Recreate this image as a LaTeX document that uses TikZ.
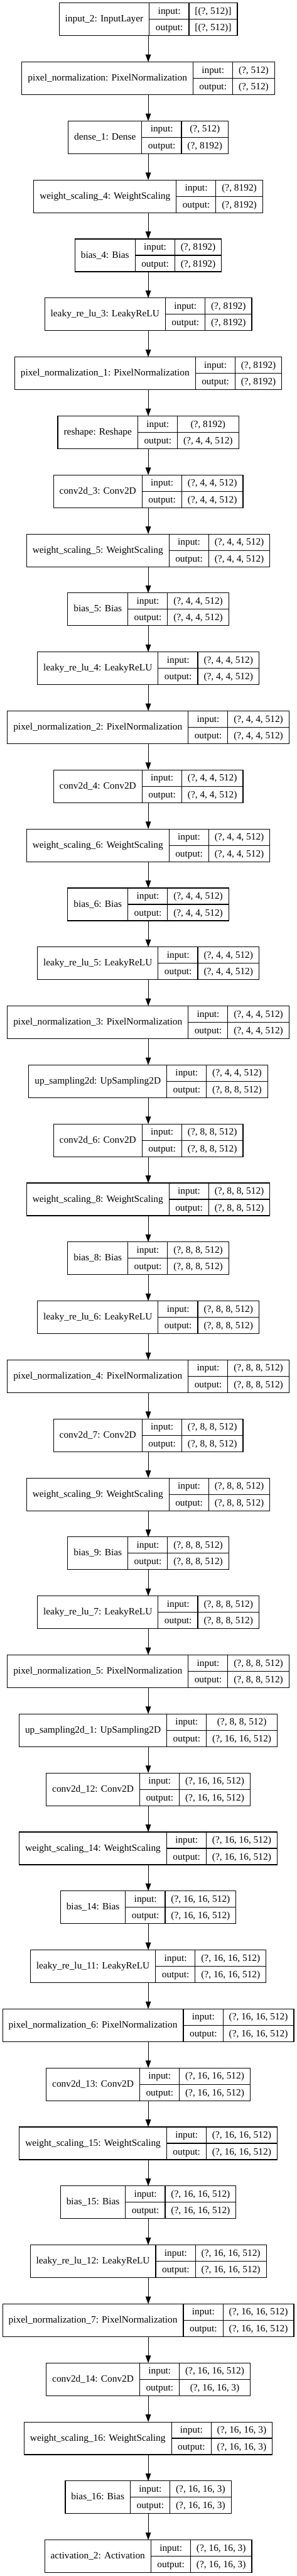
\documentclass[tikz,border=0pt]{standalone}
\usepackage{fontspec}
\setmainfont{Liberation Serif}
\usetikzlibrary{arrows.meta}
\setlength\tabcolsep{8.4pt}
\setlength\arrayrulewidth{1pt}
\newcommand\lfont{\fontsize{13.6pt}{16pt}\selectfont}
\newcommand\rowstrut{\rule[-7pt]{0pt}{22.5pt}}
\tikzset{
  rec/.style={draw, line width=1pt, inner sep=0pt, outer sep=0pt, font=\lfont},
  edge/.style={line width=1pt, -{Triangle[length=10.5pt,width=7.5pt]}}
}
\newcommand\kerasLayer[5]{%
  \pgfmathsetmacro\yc{-(27.25+83*#5)}%
  \node[rec] (#1) at (208.875pt,\yc pt)
    {\begin{tabular}{c|@{}c@{}}#2 &
      \begin{tabular}{c|c}\rowstrut input: & #3\\\hline\rowstrut output: & #4\end{tabular}%
     \end{tabular}};
}
\begin{document}
\begin{tikzpicture}
\useasboundingbox (0pt,0pt) rectangle (417.75pt,-3624pt);
\kerasLayer{n0}{input\_2: InputLayer}{[(?, 512)]}{[(?, 512)]}{0}
\kerasLayer{n1}{pixel\_normalization: PixelNormalization}{(?, 512)}{(?, 512)}{1}
\kerasLayer{n2}{dense\_1: Dense}{(?, 512)}{(?, 8192)}{2}
\kerasLayer{n3}{weight\_scaling\_4: WeightScaling}{(?, 8192)}{(?, 8192)}{3}
\kerasLayer{n4}{bias\_4: Bias}{(?, 8192)}{(?, 8192)}{4}
\kerasLayer{n5}{leaky\_re\_lu\_3: LeakyReLU}{(?, 8192)}{(?, 8192)}{5}
\kerasLayer{n6}{pixel\_normalization\_1: PixelNormalization}{(?, 8192)}{(?, 8192)}{6}
\kerasLayer{n7}{reshape: Reshape}{(?, 8192)}{(?, 4, 4, 512)}{7}
\kerasLayer{n8}{conv2d\_3: Conv2D}{(?, 4, 4, 512)}{(?, 4, 4, 512)}{8}
\kerasLayer{n9}{weight\_scaling\_5: WeightScaling}{(?, 4, 4, 512)}{(?, 4, 4, 512)}{9}
\kerasLayer{n10}{bias\_5: Bias}{(?, 4, 4, 512)}{(?, 4, 4, 512)}{10}
\kerasLayer{n11}{leaky\_re\_lu\_4: LeakyReLU}{(?, 4, 4, 512)}{(?, 4, 4, 512)}{11}
\kerasLayer{n12}{pixel\_normalization\_2: PixelNormalization}{(?, 4, 4, 512)}{(?, 4, 4, 512)}{12}
\kerasLayer{n13}{conv2d\_4: Conv2D}{(?, 4, 4, 512)}{(?, 4, 4, 512)}{13}
\kerasLayer{n14}{weight\_scaling\_6: WeightScaling}{(?, 4, 4, 512)}{(?, 4, 4, 512)}{14}
\kerasLayer{n15}{bias\_6: Bias}{(?, 4, 4, 512)}{(?, 4, 4, 512)}{15}
\kerasLayer{n16}{leaky\_re\_lu\_5: LeakyReLU}{(?, 4, 4, 512)}{(?, 4, 4, 512)}{16}
\kerasLayer{n17}{pixel\_normalization\_3: PixelNormalization}{(?, 4, 4, 512)}{(?, 4, 4, 512)}{17}
\kerasLayer{n18}{up\_sampling2d: UpSampling2D}{(?, 4, 4, 512)}{(?, 8, 8, 512)}{18}
\kerasLayer{n19}{conv2d\_6: Conv2D}{(?, 8, 8, 512)}{(?, 8, 8, 512)}{19}
\kerasLayer{n20}{weight\_scaling\_8: WeightScaling}{(?, 8, 8, 512)}{(?, 8, 8, 512)}{20}
\kerasLayer{n21}{bias\_8: Bias}{(?, 8, 8, 512)}{(?, 8, 8, 512)}{21}
\kerasLayer{n22}{leaky\_re\_lu\_6: LeakyReLU}{(?, 8, 8, 512)}{(?, 8, 8, 512)}{22}
\kerasLayer{n23}{pixel\_normalization\_4: PixelNormalization}{(?, 8, 8, 512)}{(?, 8, 8, 512)}{23}
\kerasLayer{n24}{conv2d\_7: Conv2D}{(?, 8, 8, 512)}{(?, 8, 8, 512)}{24}
\kerasLayer{n25}{weight\_scaling\_9: WeightScaling}{(?, 8, 8, 512)}{(?, 8, 8, 512)}{25}
\kerasLayer{n26}{bias\_9: Bias}{(?, 8, 8, 512)}{(?, 8, 8, 512)}{26}
\kerasLayer{n27}{leaky\_re\_lu\_7: LeakyReLU}{(?, 8, 8, 512)}{(?, 8, 8, 512)}{27}
\kerasLayer{n28}{pixel\_normalization\_5: PixelNormalization}{(?, 8, 8, 512)}{(?, 8, 8, 512)}{28}
\kerasLayer{n29}{up\_sampling2d\_1: UpSampling2D}{(?, 8, 8, 512)}{(?, 16, 16, 512)}{29}
\kerasLayer{n30}{conv2d\_12: Conv2D}{(?, 16, 16, 512)}{(?, 16, 16, 512)}{30}
\kerasLayer{n31}{weight\_scaling\_14: WeightScaling}{(?, 16, 16, 512)}{(?, 16, 16, 512)}{31}
\kerasLayer{n32}{bias\_14: Bias}{(?, 16, 16, 512)}{(?, 16, 16, 512)}{32}
\kerasLayer{n33}{leaky\_re\_lu\_11: LeakyReLU}{(?, 16, 16, 512)}{(?, 16, 16, 512)}{33}
\kerasLayer{n34}{pixel\_normalization\_6: PixelNormalization}{(?, 16, 16, 512)}{(?, 16, 16, 512)}{34}
\kerasLayer{n35}{conv2d\_13: Conv2D}{(?, 16, 16, 512)}{(?, 16, 16, 512)}{35}
\kerasLayer{n36}{weight\_scaling\_15: WeightScaling}{(?, 16, 16, 512)}{(?, 16, 16, 512)}{36}
\kerasLayer{n37}{bias\_15: Bias}{(?, 16, 16, 512)}{(?, 16, 16, 512)}{37}
\kerasLayer{n38}{leaky\_re\_lu\_12: LeakyReLU}{(?, 16, 16, 512)}{(?, 16, 16, 512)}{38}
\kerasLayer{n39}{pixel\_normalization\_7: PixelNormalization}{(?, 16, 16, 512)}{(?, 16, 16, 512)}{39}
\kerasLayer{n40}{conv2d\_14: Conv2D}{(?, 16, 16, 512)}{(?, 16, 16, 3)}{40}
\kerasLayer{n41}{weight\_scaling\_16: WeightScaling}{(?, 16, 16, 3)}{(?, 16, 16, 3)}{41}
\kerasLayer{n42}{bias\_16: Bias}{(?, 16, 16, 3)}{(?, 16, 16, 3)}{42}
\kerasLayer{n43}{activation\_2: Activation}{(?, 16, 16, 3)}{(?, 16, 16, 3)}{43}
\foreach \i [evaluate=\i as \j using int(\i+1)] in {0,...,42}
  \draw[edge] (n\i.south) -- (n\j.north);
\end{tikzpicture}
\end{document}
